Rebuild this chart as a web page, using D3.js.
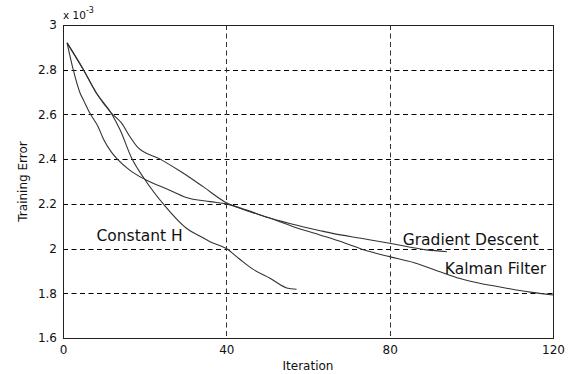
<!DOCTYPE html>
<html>
<head>
<meta charset="utf-8">
<script src="https://cdn.jsdelivr.net/npm/d3@7"></script>
<style>
  body { margin: 0; background: #fff; }
  text { font-family: "DejaVu Sans", sans-serif; fill: #111; }
</style>
</head>
<body>
<script>
// Values (training error in units of 1e-3)
var hIter = [1, 5, 8.2, 12, 14, 16.8, 20, 25, 30.3, 33.6, 36, 40, 43.3, 46.6, 50.7, 54.8, 57.2];
var hErr  = [2.92, 2.80, 2.695, 2.60, 2.53, 2.405, 2.31, 2.19, 2.09, 2.055, 2.031, 2.0, 1.952, 1.907, 1.867, 1.824, 1.818];

var gdIter = [1, 2.5, 4.2, 5, 6.6, 8.6, 9.9, 11.9, 13.3, 16.4, 20, 26, 30, 36, 40, 45, 50, 56, 63, 66, 73, 80, 89, 94];
var gdErr  = [2.92, 2.80, 2.695, 2.665, 2.605, 2.545, 2.49, 2.43, 2.40, 2.35, 2.31, 2.262, 2.23, 2.21, 2.20, 2.172, 2.14, 2.11, 2.08, 2.068, 2.046, 2.024, 1.994, 1.986];

var kfIter = [1, 5, 8.2, 11.9, 14.4, 16.4, 18.2, 23.8, 29.4, 34.3, 40, 45.8, 50, 56.4, 62.9, 68.7, 74.4, 80, 86, 93, 97, 102, 108, 114.4, 120];
var kfErr  = [2.92, 2.80, 2.695, 2.605, 2.56, 2.50, 2.455, 2.40, 2.338, 2.277, 2.205, 2.165, 2.14, 2.098, 2.061, 2.027, 1.99, 1.964, 1.937, 1.892, 1.867, 1.845, 1.825, 1.805, 1.792];

var xTicks = [0, 40, 80, 120];
var yTicks = [1.6, 1.8, 2, 2.2, 2.4, 2.6, 2.8, 3];

var margin = {top: 25, right: 17, bottom: 36, left: 63},
    width = 570 - margin.left - margin.right,
    height = 374 - margin.top - margin.bottom;

var svg = d3.select("body").append("svg")
    .attr("width", 570)
    .attr("height", 374);

var plot = svg.append("g")
    .attr("transform", "translate(" + margin.left + "," + margin.top + ")");

var x = d3.scaleLinear().domain([0, 120]).range([0, width]);
var y = d3.scaleLinear().domain([1.6, 3]).range([height, 0]);

// dashed grid
plot.selectAll(".hgrid")
    .data(yTicks.slice(1, -1))
  .enter().append("line")
    .attr("x1", 0).attr("x2", width)
    .attr("y1", function(d) { return Math.round(y(d)) + 0.5; })
    .attr("y2", function(d) { return Math.round(y(d)) + 0.5; })
    .attr("stroke", "#000")
    .attr("stroke-dasharray", "5,3.5");

plot.selectAll(".vgrid")
    .data(xTicks.slice(1, -1))
  .enter().append("line")
    .attr("x1", function(d) { return Math.round(x(d)) + 0.5; })
    .attr("x2", function(d) { return Math.round(x(d)) + 0.5; })
    .attr("y1", 0).attr("y2", height)
    .attr("stroke", "#333")
    .attr("stroke-dasharray", "5,3.5");

// axes (labels only, MATLAB style)
var yAxis = plot.append("g")
    .call(d3.axisLeft(y).tickValues(yTicks).tickSize(0).tickPadding(6)
      .tickFormat(function(d) { return d3.format("~g")(d); }));
yAxis.select(".domain").remove();
yAxis.selectAll("text").style("font-size", "12px");

var xAxis = plot.append("g")
    .attr("transform", "translate(0," + height + ")")
    .call(d3.axisBottom(x).tickValues(xTicks).tickSize(0).tickPadding(7));
xAxis.select(".domain").remove();
xAxis.selectAll("text").style("font-size", "12px");

// curves
var line = d3.line()
    .x(function(d) { return x(d[0]); })
    .y(function(d) { return y(d[1]); })
    .curve(d3.curveMonotoneX);

[[hIter, hErr], [gdIter, gdErr], [kfIter, kfErr]].forEach(function(s) {
  plot.append("path")
      .datum(d3.zip(s[0], s[1]))
      .attr("d", line)
      .attr("fill", "none")
      .attr("stroke", "#333")
      .attr("stroke-width", 1.1);
});

// frame
plot.append("rect")
    .attr("x", 0.5).attr("y", 0.5)
    .attr("width", width).attr("height", height)
    .attr("fill", "none")
    .attr("stroke", "#222");

// curve labels
plot.append("text").attr("x", x(8.2)).attr("y", y(2.035))
    .style("font-size", "15.5px").text("Constant H");
plot.append("text").attr("x", x(83.2)).attr("y", y(2.015))
    .style("font-size", "15.5px").text("Gradient Descent");
plot.append("text").attr("x", x(93.5)).attr("y", y(1.885))
    .style("font-size", "15.5px").text("Kalman Filter");

// exponent
var ex = svg.append("text").attr("x", margin.left).attr("y", 19).style("font-size", "10.5px");
ex.append("tspan").text("x 10");
ex.append("tspan").attr("dy", -6).style("font-size", "8px").text("-3");

// axis titles
svg.append("text")
    .attr("x", margin.left + width / 2).attr("y", 370)
    .attr("text-anchor", "middle")
    .style("font-size", "12px")
    .text("Iteration");

svg.append("text")
    .attr("transform", "translate(27," + (margin.top + height / 2) + ") rotate(-90)")
    .attr("text-anchor", "middle")
    .style("font-size", "12px")
    .text("Training Error");
</script>
</body>
</html>
